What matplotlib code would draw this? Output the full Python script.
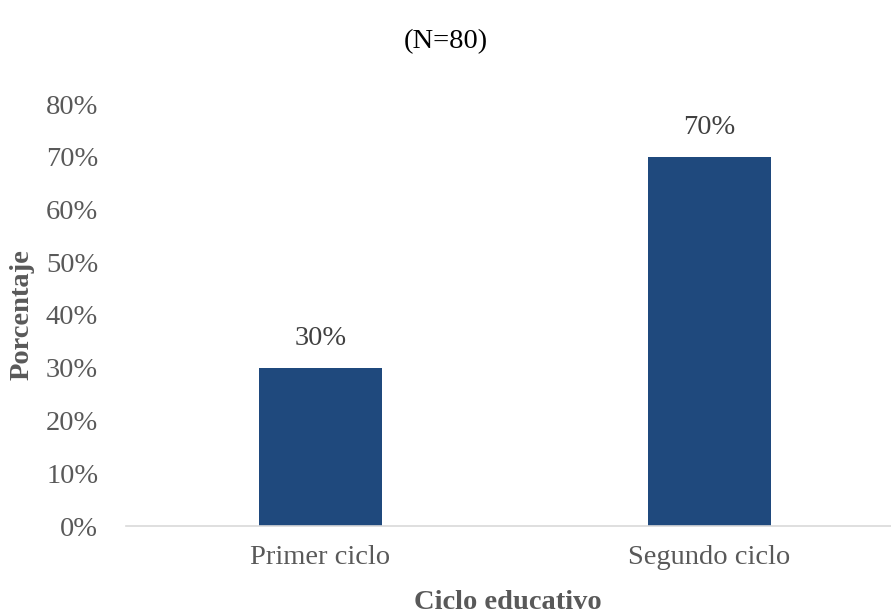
import numpy as np
import matplotlib.pyplot as plt
from matplotlib.ticker import PercentFormatter

categorias = ["Primer ciclo", "Segundo ciclo"]
porcentajes = [30, 70]
yticks = [0, 10, 20, 30, 40, 50, 60, 70, 80]

plt.rcParams['font.family'] = ['Liberation Serif', 'DejaVu Serif']
gris = '#595959'
azul = '#1F497D'
fs = 20.5

fig = plt.figure(figsize=(8.91, 6.14), dpi=100)
ax = fig.add_axes([126/891, 88/614, 778/891, 422/614])

x = np.arange(len(categorias))
barras = ax.bar(x, porcentajes, width=0.314, color=azul, zorder=2)
for b, v in zip(barras, porcentajes):
    ax.text(b.get_x() + b.get_width()/2, v + 3.2, f"{v}%", ha='center', va='bottom',
            fontsize=fs, color='#404040')

ax.set_xlim(-0.5, 1.5)
ax.set_ylim(0, 80)
ax.set_yticks(yticks)
ax.yaxis.set_major_formatter(PercentFormatter(decimals=0))
ax.set_xticks(x)
ax.set_xticklabels(categorias)
ax.tick_params(axis='both', length=0, labelsize=fs, colors=gris)
ax.tick_params(axis='y', pad=20)
ax.tick_params(axis='x', pad=14)

for s in ['top', 'right', 'left']:
    ax.spines[s].set_visible(False)
ax.spines['bottom'].set_color('#D9D9D9')
ax.spines['bottom'].set_linewidth(1.2)

ax.set_ylabel("Porcentaje", fontsize=fs, fontweight='bold', color=gris)
ax.yaxis.set_label_coords(-0.117, 0.5)
ax.set_xlabel("Ciclo educativo", fontsize=fs, fontweight='bold', color=gris)
ax.xaxis.set_label_coords(0.491, -0.152)

fig.text(0.5, 1 - 42/614, "(N=80)", ha='center', va='center', fontsize=fs, color='black')

plt.savefig("out.png", dpi=100)
